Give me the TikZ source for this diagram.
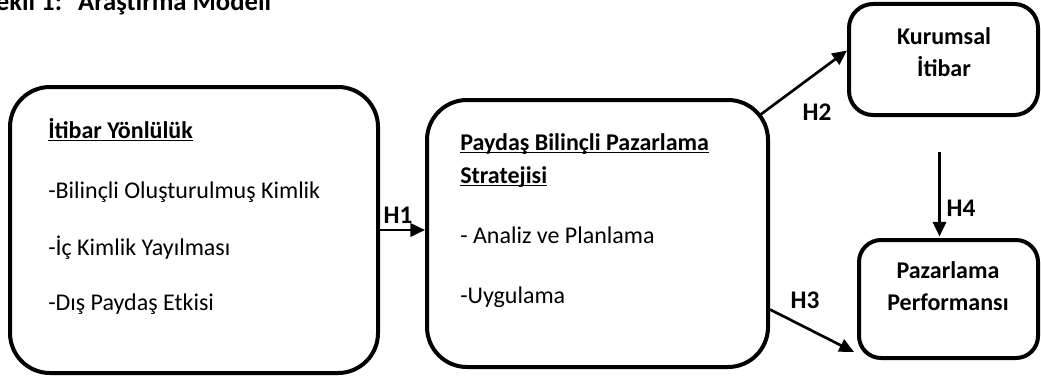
\documentclass[tikz,border=0pt]{standalone}
\usepackage{fontspec}
\setmainfont{Carlito}
\usetikzlibrary{arrows.meta, positioning, calc}

\newcommand{\ulbar}[1]{\setbox0\hbox{#1}\rlap{\rule[-2.6pt]{\wd0}{1.2pt}}\box0}

\begin{document}
\begin{tikzpicture}[x=0.75pt,y=-0.75pt,
    font=\fontsize{18}{21}\selectfont,
    main box/.style={draw,line width=3pt,rounded corners=30pt,inner sep=0pt},
    small box/.style={draw,line width=3pt,rounded corners=18pt,inner sep=0pt},
    item text/.style={anchor=base west,inner sep=0pt},
    box text/.style={anchor=base,inner sep=0pt,font=\fontsize{18}{21}\selectfont\bfseries},
    hyp/.style={font=\fontsize{19}{21}\selectfont\bfseries,inner sep=0pt},
    link/.style={-{Triangle[length=11pt,width=10pt]},line width=2pt}]
    \useasboundingbox (0,0) rectangle (1041,378);
    \clip (0,0) rectangle (1041,378);

    % title
    \node[item text,font=\fontsize{20}{24}\selectfont\bfseries] (title) at (-17,11) {Şekil 1:\hspace{6pt} Araştırma Modeli};

    % boxes
    \node[main box,minimum width=276pt,minimum height=214.5pt] (orient) at (194,230) {};
    \node[main box,minimum width=255.75pt,minimum height=200.25pt] (strat) at (597.5,233.5) {};
    \node[small box,minimum width=141.75pt,minimum height=83.25pt] (kurum) at (943.5,59.5) {};
    \node[small box,rounded corners=16.5pt,minimum width=134.25pt,minimum height=88.5pt] (pazar) at (948.5,299) {};

    % texts of the right boxes
    \node[box text] (k0) at (944,45) {Kurumsal};
    \node[box text] (k1) at (944,77) {İtibar};
    \node[box text] (p0) at (948,278) {Pazarlama};
    \node[box text] (p1) at (948,310) {Performansı};

    % texts of the left box
    \node[item text] (o0) at (48,138) {\bfseries\ulbar{İtibar Yönlülük}};
    \node[item text] (o1) at (48,198) {-Bilinçli Oluşturulmuş Kimlik};
    \node[item text] (o2) at (48,255) {-İç Kimlik Yayılması};
    \node[item text] (o3) at (48,310) {-Dış Paydaş Etkisi};

    % texts of the middle box
    \node[item text] (s0) at (460,150) {\bfseries\ulbar{Paydaş Bilinçli Pazarlama}};
    \node[item text] (s1) at (460,183) {\bfseries\ulbar{Stratejisi}};
    \node[item text] (s2) at (460,243) {- Analiz ve Planlama};
    \node[item text] (s3) at (460,303) {-Uygulama};

    % hypotheses
    \draw[link] (orient.east) -- (strat.west |- orient.east);
    \draw[link] ($(strat.north east)+(-10,17)$) -- ($(kurum.west)+(0,-9)$);
    \draw[link] ($(strat.east)+(0,76)$) -- ($(pazar.south west)+(-3,-8)$);
    \draw[link] ($(kurum.south)+(-4,35)$) -- ($(pazar.north)+(-9,-1.5)$);

    \node[hyp] (h1) at (398,215) {H1};
    \node[hyp] (h2) at (817,112) {H2};
    \node[hyp] (h3) at (805,300) {H3};
    \node[hyp] (h4) at (961,208) {H4};
\end{tikzpicture}
\end{document}
